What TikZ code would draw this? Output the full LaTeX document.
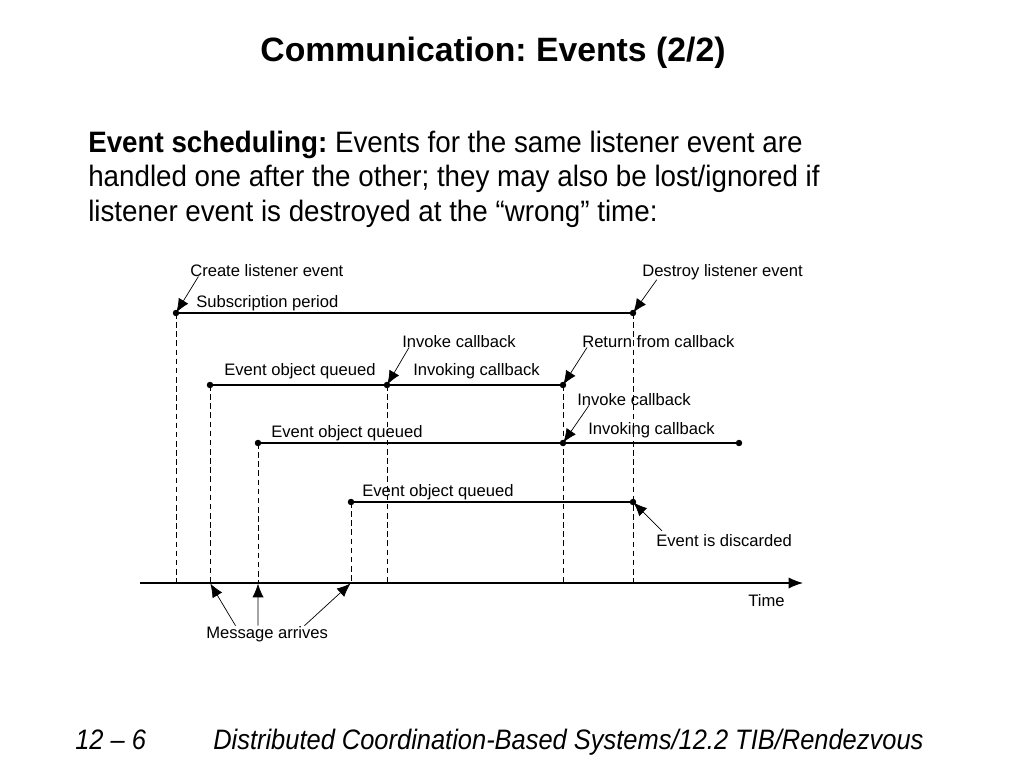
\documentclass[tikz,border=0pt]{standalone}
\usepackage{fontspec}
\setmainfont{Liberation Sans}
\newfontfamily\narrowfont[FakeStretch=0.94]{Liberation Sans}
\newfontfamily\footfont[FakeStretch=0.905]{Liberation Sans}
\usetikzlibrary{arrows.meta}
\frenchspacing

\begin{document}
\begin{tikzpicture}[x=0.025cm, y=-0.025cm,
  lbl/.style={anchor=base west, inner sep=0pt, font=\fontsize{11.8}{14}\selectfont},
  period/.style={line width=0.8pt},
  guide/.style={dashed, dash pattern=on 4pt off 2.5pt, line width=0.6pt},
  pointer/.style={-{Latex[length=3.4mm,width=2.8mm]}, line width=0.5pt, shorten >=0.5pt},
  dotfill/.style={fill=black}]
\useasboundingbox (0,0) rectangle (1024,768);

\node[anchor=base, inner sep=0pt, font=\fontsize{24}{28}\selectfont\bfseries] (title) at (493,62) {Communication: Events (2/2)};
\node[anchor=base west, inner sep=0pt, align=left, font=\narrowfont\fontsize{21}{24.5}\selectfont] (intro) at (88,221)
  {\textbf{Event scheduling:} Events for the same listener event are\\
   handled one after the other; they may also be lost/ignored if\\
   listener event is destroyed at the “wrong” time:};

\coordinate (t0) at (140,583);
\coordinate (t1) at (803,583);
\coordinate (s1) at (176,313);
\coordinate (e1) at (633,313);
\coordinate (q2) at (210,385);
\coordinate (i2) at (387,385);
\coordinate (r2) at (563,385);
\coordinate (q3) at (258,443);
\coordinate (i3) at (563,443);
\coordinate (e3) at (739,443);
\coordinate (q4) at (351,502);
\coordinate (d4) at (633,502);

\draw[period] (s1) -- (e1);
\draw[period] (q2) -- (r2);
\draw[period] (q3) -- (e3);
\draw[period] (q4) -- (d4);
\foreach \p in {s1,q2,q3,q4,i2,r2,e1}
  \draw[guide] (\p) -- (\p |- t0);
\foreach \p in {s1,e1,q2,i2,r2,q3,i3,e3,q4,d4}
  \fill[dotfill] (\p) circle (2.3pt);
\draw[period, -{Latex[length=3.6mm,width=2.8mm]}] (t0) -- (t1);

\node[lbl] (create) at (190,276) {Create listener event};
\node[lbl] (subscr) at (196,307) {Subscription period};
\node[lbl] (destroy) at (642,276) {Destroy listener event};
\node[lbl] (invokeA) at (402,347) {Invoke callback};
\node[lbl] (queuedA) at (224,375) {Event object queued};
\node[lbl] (invokingA) at (413,375) {Invoking callback};
\node[lbl] (return) at (582,347) {Return from callback};
\node[lbl] (invokeB) at (577,405) {Invoke callback};
\node[lbl] (invokingB) at (588,434) {Invoking callback};
\node[lbl] (queuedB) at (271,437) {Event object queued};
\node[lbl] (queuedC) at (362,496) {Event object queued};
\node[lbl] (discard) at (656,546) {Event is discarded};
\node[lbl] (time) at (748,606) {Time};
\node[lbl] (msg) at (206,638) {Message arrives};

\draw[pointer] ([xshift=6pt]create.south west) -- (s1);
\draw[pointer] ([xshift=10.5pt]destroy.south west) -- (e1);
\draw[pointer] ([xshift=5pt]invokeA.south west) -- (i2);
\draw[pointer] ([xshift=3.6pt]return.south west) -- (r2);
\draw[pointer] ([xshift=8.5pt]invokeB.south west) -- (i3);
\draw[pointer] ([xshift=4.3pt, yshift=2pt]discard.north west) -- (d4);
\draw[pointer] ([xshift=21pt]msg.north west) -- (q2 |- t0);
\draw[pointer] ([xshift=37pt]msg.north west) -- (q3 |- t0);
\draw[pointer] ([xshift=70pt]msg.north west) -- (q4 |- t0);

\node[anchor=base west, inner sep=0pt, font=\footfont\fontsize{20}{24}\selectfont\itshape] (pageno) at (75,749) {12 – 6};
\node[anchor=base west, inner sep=0pt, font=\footfont\fontsize{20}{24}\selectfont\itshape] (footer) at (213,749) {Distributed Coordination-Based Systems/12.2 TIB/Rendezvous};
\end{tikzpicture}
\end{document}
